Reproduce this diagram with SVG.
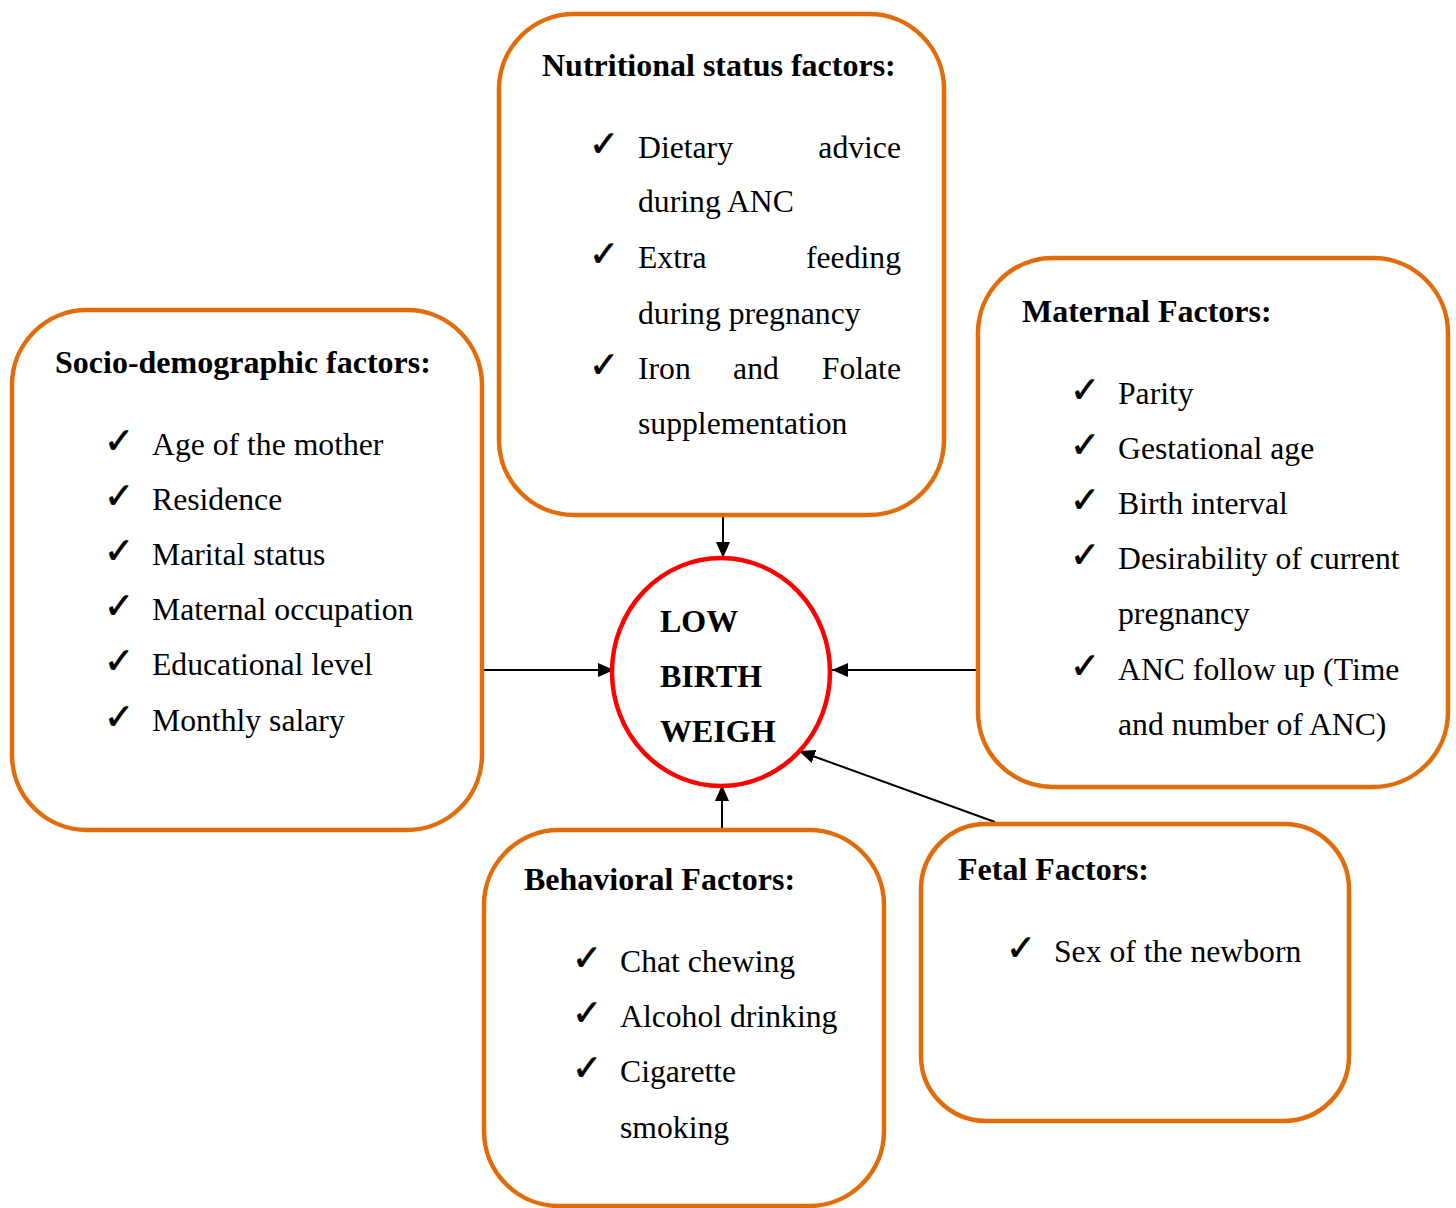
<svg xmlns="http://www.w3.org/2000/svg" width="1456" height="1208" viewBox="0 0 1456 1208">
<defs>
<style>
.box{fill:#fff;stroke:#E36C0A;stroke-width:4.5}
.t{font-family:"Liberation Serif","Times New Roman",serif;font-size:31.7px;fill:#000}
.h{font-family:"Liberation Serif","Times New Roman",serif;font-size:32px;font-weight:bold;fill:#000}
.ck{font-family:"DejaVu Sans",sans-serif;font-size:36px;fill:#000;stroke:#000;stroke-width:0.6}
.c{stroke:#000;stroke-width:2;fill:none}
</style>
<marker id="a" viewBox="0 0 16 14" refX="16" refY="7" markerWidth="16" markerHeight="14" markerUnits="userSpaceOnUse" orient="auto">
<path d="M0,0 L16,7 L0,14 z" fill="#000"/>
</marker>
</defs>
<rect width="1456" height="1208" fill="#fff"/>

<g id="connectors">
<line class="c" x1="723" y1="515" x2="723" y2="558" marker-end="url(#a)"/>
<line class="c" x1="484" y1="670" x2="614" y2="670" marker-end="url(#a)"/>
<line class="c" x1="977" y1="670" x2="832" y2="670" marker-end="url(#a)"/>
<line class="c" x1="722" y1="830" x2="722" y2="785" marker-end="url(#a)"/>
<line class="c" x1="995" y1="822" x2="799" y2="751" marker-end="url(#a)"/>
</g>

<g id="socio">
<rect class="box" x="12" y="310" width="470" height="520" rx="75" ry="75"/>
<text class="h" x="55" y="373">Socio-demographic factors:</text>
<text class="ck" x="104" y="453">✓</text><text class="t" x="152" y="455">Age of the mother</text>
<text class="ck" x="104" y="508">✓</text><text class="t" x="152" y="510">Residence</text>
<text class="ck" x="104" y="563">✓</text><text class="t" x="152" y="565">Marital status</text>
<text class="ck" x="104" y="618">✓</text><text class="t" x="152" y="620">Maternal occupation</text>
<text class="ck" x="104" y="673">✓</text><text class="t" x="152" y="675">Educational level</text>
<text class="ck" x="104" y="729">✓</text><text class="t" x="152" y="731">Monthly salary</text>
</g>

<g id="nutritional">
<rect class="box" x="499" y="14" width="445" height="501" rx="75" ry="75"/>
<text class="h" x="542" y="76">Nutritional status factors:</text>
<text class="ck" x="589" y="156">✓</text>
<text class="t" x="638" y="158">Dietary</text><text class="t" x="901" y="158" text-anchor="end">advice</text>
<text class="t" x="638" y="212">during ANC</text>
<text class="ck" x="589" y="266">✓</text>
<text class="t" x="638" y="268">Extra</text><text class="t" x="901" y="268" text-anchor="end">feeding</text>
<text class="t" x="638" y="324">during pregnancy</text>
<text class="ck" x="589" y="377">✓</text>
<text class="t" x="638" y="379">Iron</text><text class="t" x="756" y="379" text-anchor="middle">and</text><text class="t" x="901" y="379" text-anchor="end">Folate</text>
<text class="t" x="638" y="434">supplementation</text>
</g>

<g id="maternal">
<rect class="box" x="978" y="258" width="470" height="529" rx="75" ry="75"/>
<text class="h" x="1022" y="322">Maternal Factors:</text>
<text class="ck" x="1070" y="402">✓</text><text class="t" x="1118" y="404">Parity</text>
<text class="ck" x="1070" y="457">✓</text><text class="t" x="1118" y="459">Gestational age</text>
<text class="ck" x="1070" y="512">✓</text><text class="t" x="1118" y="514">Birth interval</text>
<text class="ck" x="1070" y="567">✓</text><text class="t" x="1118" y="569">Desirability of current</text>
<text class="t" x="1118" y="624">pregnancy</text>
<text class="ck" x="1070" y="678">✓</text><text class="t" x="1118" y="680">ANC follow up (Time</text>
<text class="t" x="1118" y="735">and number of ANC)</text>
</g>

<g id="behavioral">
<rect class="box" x="484" y="830" width="400" height="376" rx="75" ry="75"/>
<text class="h" x="524" y="890">Behavioral Factors:</text>
<text class="ck" x="572" y="970">✓</text><text class="t" x="620" y="972">Chat chewing</text>
<text class="ck" x="572" y="1025">✓</text><text class="t" x="620" y="1027">Alcohol drinking</text>
<text class="ck" x="572" y="1080">✓</text><text class="t" x="620" y="1082">Cigarette</text>
<text class="t" x="620" y="1138">smoking</text>
</g>

<g id="fetal">
<rect class="box" x="921" y="824" width="428" height="297" rx="65" ry="65"/>
<text class="h" x="958" y="880">Fetal Factors:</text>
<text class="ck" x="1006" y="960">✓</text><text class="t" x="1054" y="962">Sex of the newborn</text>
</g>

<g id="lbw">
<ellipse cx="721" cy="672" rx="109" ry="114" fill="#fff" stroke="#FF0000" stroke-width="4.5"/>
<text class="h" x="660" y="632">LOW</text>
<text class="h" x="660" y="687">BIRTH</text>
<text class="h" x="660" y="742">WEIGH</text>
</g>
</svg>
